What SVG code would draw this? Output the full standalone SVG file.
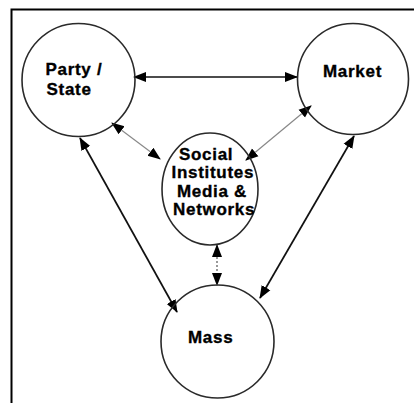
<svg xmlns="http://www.w3.org/2000/svg" width="414" height="403" viewBox="0 0 414 403">
<style>
.node{fill:none;stroke:#2a2a2a;stroke-width:1.6}
.lbl{font-family:"Liberation Sans",Arial,sans-serif;font-weight:bold;font-size:17px;letter-spacing:0.7px;fill:#000;stroke:#000;stroke-width:0.35}
.solid{stroke:#111;stroke-width:1.7;fill:none}
.gray{stroke:#888;stroke-width:1.2;fill:none}
.dash{stroke:#555;stroke-width:1.2;stroke-dasharray:2 2;fill:none}
</style>
<defs>
<marker id="ah" markerUnits="userSpaceOnUse" markerWidth="14" markerHeight="12" refX="12" refY="5" orient="auto-start-reverse" viewBox="0 0 14 10">
<path d="M0,0 L13,5 L0,10 z" fill="#000"/>
</marker>
</defs>
<rect width="414" height="403" fill="#fff"/>
<path d="M11.5,403 V9.5 H414" fill="none" stroke="#000" stroke-width="2"/>
<g id="connectors">
<line class="solid" x1="134" y1="77" x2="297" y2="77" marker-start="url(#ah)" marker-end="url(#ah)"/>
<line class="gray" x1="112" y1="123" x2="160" y2="159" marker-start="url(#ah)" marker-end="url(#ah)"/>
<line class="gray" x1="311" y1="106" x2="246" y2="160" marker-start="url(#ah)" marker-end="url(#ah)"/>
<line class="dash" x1="217" y1="245" x2="217" y2="285" marker-start="url(#ah)" marker-end="url(#ah)"/>
<line class="solid" x1="80" y1="138" x2="177" y2="312" marker-start="url(#ah)" marker-end="url(#ah)"/>
<line class="solid" x1="354" y1="136" x2="260" y2="298" marker-start="url(#ah)" marker-end="url(#ah)"/>
</g>
<g id="party">
<circle class="node" cx="78.5" cy="80" r="56.5"/>
<text class="lbl" x="45.5" y="75">Party /</text>
<text class="lbl" x="46.5" y="94.5">State</text>
</g>
<g id="market">
<circle class="node" cx="353" cy="79" r="55.5"/>
<text class="lbl" x="323" y="77">Market</text>
</g>
<g id="social">
<ellipse class="node" cx="210" cy="189" rx="48" ry="56"/>
<text class="lbl" x="179" y="160">Social</text>
<text class="lbl" x="171.5" y="178">Institutes</text>
<text class="lbl" x="177" y="197">Media &amp;</text>
<text class="lbl" x="173" y="214.5">Networks</text>
</g>
<g id="mass">
<circle class="node" cx="217.5" cy="341.5" r="56.5"/>
<text class="lbl" x="188" y="343">Mass</text>
</g>
</svg>
